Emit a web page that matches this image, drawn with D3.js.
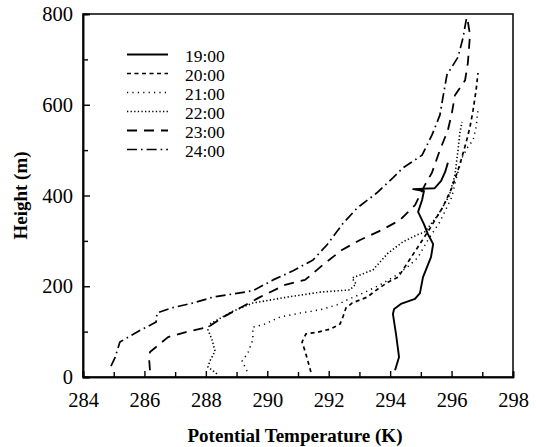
<!DOCTYPE html>
<html>
<head>
<meta charset="utf-8">
<script src="https://cdn.jsdelivr.net/npm/d3@7"></script>
<style>
  html, body { margin: 0; padding: 0; background: #fff; }
  svg { display: block; }
  text { font-family: "Liberation Serif", "Times New Roman", serif; fill: #000; }
</style>
</head>
<body>
<svg id="chart" width="536" height="447"></svg>
<script>
// ---- data (Potential Temperature K, Height m) ----
const seriesNames = ["19:00", "20:00", "21:00", "22:00", "23:00", "24:00"];

const s1900 = [[294.16,15],[294.29,44],[294.19,95],[294.09,139],[294.13,150],[294.35,161],[294.81,172],[294.97,185],
  [295.07,220],[295.20,242],[295.33,264],[295.40,293],[295.23,315],[295.10,337],[294.91,364],[295.04,390],
  [295.10,410],[294.75,414],[295.45,416],[295.66,432],[295.79,452],[295.88,472]];

const s2000 = [[291.42,11],[291.33,33],[291.23,57],[291.13,77],[291.26,95],[291.65,99],[292.07,106],[292.37,117],
  [292.47,134],[292.56,152],[292.76,163],[293.25,176],[293.60,194],[293.93,209],[294.26,220],[294.58,253],
  [294.91,287],[295.30,328],[295.72,375],[296.01,417],[296.21,456],[296.34,485],[296.47,516],[296.60,551],
  [296.70,588],[296.80,633],[296.86,670]];

const s2100 = [[289.34,13],[289.18,35],[289.37,53],[289.53,82],[289.53,110],[289.86,115],[290.41,132],[291.07,141],
  [291.72,148],[292.27,159],[292.60,170],[293.12,185],[293.67,203],[294.22,225],[294.65,247],[294.91,264],
  [295.23,302],[295.62,342],[296.01,397],[296.18,445],[296.34,483],[296.53,507],[296.70,522],[296.80,551],
  [296.86,588]];

const s2200 = [[288.36,7],[288.07,22],[288.13,35],[288.30,57],[288.20,82],[288.07,104],[288.13,117],[288.30,123],
  [288.88,145],[289.53,163],[290.64,176],[291.72,187],[292.69,192],[292.89,205],[292.76,218],[293.02,225],
  [293.44,236],[293.93,273],[294.42,298],[294.87,313],[295.13,320],[295.56,357],[295.92,399],[296.11,445],
  [296.21,500],[296.27,538],[296.34,562]];

const s2300 = [[286.18,15],[286.15,42],[286.18,55],[286.77,88],[287.35,99],[288.07,110],[288.56,132],[289.11,152],
  [289.76,176],[290.58,203],[291.23,214],[291.81,247],[292.43,280],[293.02,302],[293.73,324],[294.32,346],
  [294.81,379],[295.13,423],[295.36,450],[295.62,500],[295.88,544],[296.01,582],[296.11,621],[296.44,654],
  [296.53,692],[296.60,754],[296.50,796]];

const s2400 = [[284.91,24],[285.04,42],[285.20,77],[285.89,104],[286.38,121],[286.41,141],[286.87,152],[287.58,163],
  [288.23,176],[288.88,183],[289.53,190],[290.19,214],[290.84,234],[291.49,258],[291.94,291],[292.47,339],
  [292.92,372],[293.57,406],[294.09,439],[294.42,461],[295.04,489],[295.36,533],[295.62,577],[295.72,617],
  [295.85,666],[296.21,705],[296.37,747],[296.50,796]];

const xMajorTicks = [284, 286, 288, 290, 292, 294, 296, 298];
const xMinorTicks = [285, 287, 289, 291, 293, 295, 297];
const yMajorTicks = [0, 200, 400, 600, 800];
const yMinorTicks = [100, 300, 500, 700];

const xTitle = "Potential Temperature (K)";
const yTitle = "Height (m)";

// ---- styles ----
const allSeries = [s1900, s2000, s2100, s2200, s2300, s2400];
const dashes = [null, "4,3.5", "1.2,4.2", "1.3,2.3", "10,7", "10,4,1.6,4"];
const widths = [1.9, 1.7, 1.5, 1.6, 1.8, 1.7];

const svg = d3.select("#chart");
const x = d3.scaleLinear().domain([284, 298]).range([83, 513]);
const y = d3.scaleLinear().domain([0, 800]).range([377, 14]);

// frame
svg.append("rect")
  .attr("x", x(284)).attr("y", y(800))
  .attr("width", x(298) - x(284)).attr("height", y(0) - y(800))
  .attr("fill", "none").attr("stroke", "#000").attr("stroke-width", 1.5);

// axes
const fontSize = 20.5;
const gx = svg.append("g").attr("transform", `translate(0,${y(0)})`)
  .call(d3.axisBottom(x).tickValues(xMajorTicks).tickFormat(d3.format("d")).tickSize(-6).tickPadding(15));
const gxm = svg.append("g").attr("transform", `translate(0,${y(0)})`)
  .call(d3.axisBottom(x).tickValues(xMinorTicks).tickFormat("").tickSize(-5));
const gy = svg.append("g").attr("transform", `translate(${x(284)},0)`)
  .call(d3.axisLeft(y).tickValues(yMajorTicks).tickFormat(d3.format("d")).tickSize(-7).tickPadding(10));
const gym = svg.append("g").attr("transform", `translate(${x(284)},0)`)
  .call(d3.axisLeft(y).tickValues(yMinorTicks).tickFormat("").tickSize(-5));

[gx, gxm, gy, gym].forEach(g => {
  g.select(".domain").attr("stroke", "#000").attr("stroke-width", 1.5);
  g.selectAll(".tick line").attr("stroke", "#000").attr("stroke-width", 1.4);
  g.selectAll(".tick text").attr("font-family", "Liberation Serif, serif").attr("font-size", fontSize).attr("fill", "#000");
});

// axis titles
svg.append("text").attr("x", 295).attr("y", 442).attr("text-anchor", "middle")
  .attr("font-size", 19).attr("font-weight", "bold").text(xTitle);
svg.append("text").attr("transform", `translate(27,${(y(0) + y(800)) / 2}) rotate(-90)`)
  .attr("text-anchor", "middle").attr("font-size", 19).attr("font-weight", "bold").text(yTitle);

// curves
const line = d3.line().x(d => x(d[0])).y(d => y(d[1]));
allSeries.forEach((s, i) => {
  svg.append("path").datum(s)
    .attr("d", line)
    .attr("fill", "none")
    .attr("stroke", "#000")
    .attr("stroke-width", widths[i])
    .attr("stroke-dasharray", dashes[i])
    .attr("stroke-linejoin", "round");
});

// legend
const legend = svg.append("g");
seriesNames.forEach((name, i) => {
  const by = 62 + i * 19;
  legend.append("line")
    .attr("x1", 127).attr("x2", 168).attr("y1", by - 7.5).attr("y2", by - 7.5)
    .attr("stroke", "#000").attr("stroke-width", widths[i])
    .attr("stroke-dasharray", dashes[i]);
  legend.append("text").attr("x", 185).attr("y", by)
    .attr("font-size", 17.5).text(name);
});
</script>
</body>
</html>
